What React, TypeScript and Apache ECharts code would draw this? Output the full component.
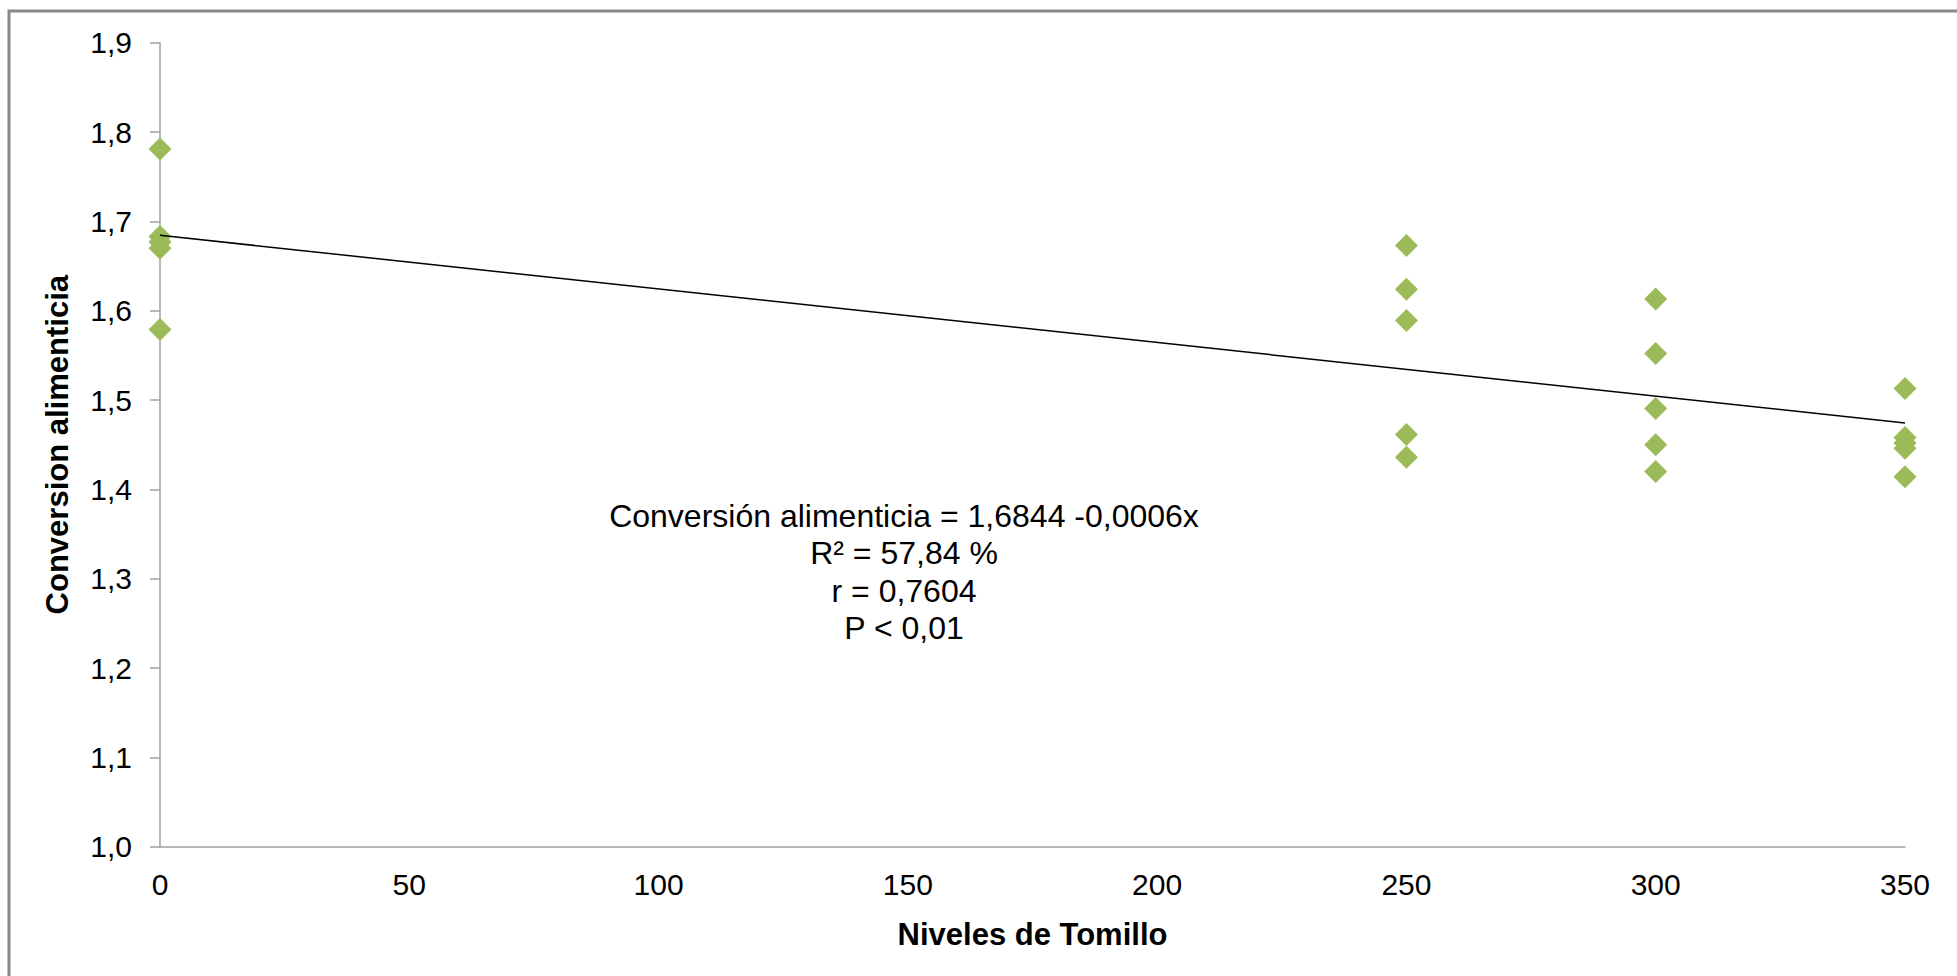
import React, { useEffect, useRef } from "react";
import * as echarts from "echarts";

const levels = [0, 0, 0, 0, 0, 250, 250, 250, 250, 250, 300, 300, 300, 300, 300, 350, 350, 350, 350, 350];
const conversion = [1.781, 1.683, 1.677, 1.670, 1.579, 1.673, 1.624, 1.589, 1.4615, 1.436, 1.613, 1.552, 1.4905, 1.450, 1.420, 1.513, 1.458, 1.452, 1.446, 1.414];
const trendIntercept = 1.6844;
const trendSlope = -0.0006;
const trendX = [0, 350];
const equationLines = [
  "Conversión alimenticia = 1,6844 -0,0006x",
  "R² = 57,84 %",
  "r = 0,7604",
  "P < 0,01",
];
const xTitle = "Niveles de Tomillo";
const yTitle = "Conversion alimenticia";

const FONT = "'Liberation Sans', Arial, sans-serif";

export default function App() {
  const ref = useRef<HTMLDivElement>(null);
  useEffect(() => {
    if (!ref.current) return;
    const chart = echarts.init(ref.current, undefined, { renderer: "svg" });
    const points = levels.map((x, i) => [x, conversion[i]]);
    const trend = trendX.map((x) => [x, trendIntercept + trendSlope * x]);
    chart.setOption({
      animation: false,
      backgroundColor: "#ffffff",
      textStyle: { fontFamily: FONT },
      grid: { left: 160, top: 42.7, right: 52, bottom: 129.3, containLabel: false },
      xAxis: {
        type: "value",
        min: 0,
        max: 350,
        interval: 50,
        name: xTitle,
        nameLocation: "middle",
        nameGap: 72,
        nameTextStyle: { fontFamily: FONT, fontSize: 31, fontWeight: "bold", color: "#000" },
        axisLine: { show: true, onZero: false, lineStyle: { color: "#a0a0a0", width: 1.5 } },
        axisTick: { show: false },
        axisLabel: { fontFamily: FONT, fontSize: 30, color: "#000", margin: 23 },
        splitLine: { show: false },
      },
      yAxis: {
        type: "value",
        min: 1.0,
        max: 1.9,
        interval: 0.1,
        name: yTitle,
        nameLocation: "middle",
        nameGap: 87,
        nameRotate: 90,
        nameTextStyle: { fontFamily: FONT, fontSize: 31, fontWeight: "bold", color: "#000" },
        axisLine: { show: true, lineStyle: { color: "#a0a0a0", width: 1.5 } },
        axisTick: { show: true, length: 10, lineStyle: { color: "#a0a0a0", width: 1.5 } },
        axisLabel: {
          fontFamily: FONT,
          fontSize: 30,
          color: "#000",
          margin: 28,
          formatter: (v: number) => v.toFixed(1).replace(".", ","),
        },
        splitLine: { show: false },
      },
      series: [
        {
          type: "line",
          data: trend,
          showSymbol: false,
          symbol: "none",
          lineStyle: { color: "#000000", width: 1.5 },
          z: 3,
        },
        {
          type: "scatter",
          data: points,
          symbol: "diamond",
          symbolSize: 23,
          itemStyle: { color: "#9bbb59", opacity: 1 },
          z: 2,
        },
      ],
      graphic: [
        {
          type: "rect",
          shape: { x: 9, y: 11, width: 2100, height: 1100 },
          style: { fill: "none", stroke: "#888888", lineWidth: 3 },
          silent: true,
          z: 10,
        },
        {
          type: "text",
          x: 904,
          y: 497,
          style: {
            text: equationLines.join("\n"),
            fontFamily: FONT,
            fontSize: 32,
            lineHeight: 37.5,
            fill: "#000",
            align: "center",
            verticalAlign: "top",
          },
          z: 10,
        },
      ],
    });
    return () => chart.dispose();
  }, []);
  return (
    <div
      ref={ref}
      style={{ position: "absolute", left: 0, top: 0, width: 1957, height: 976 }}
    />
  );
}
